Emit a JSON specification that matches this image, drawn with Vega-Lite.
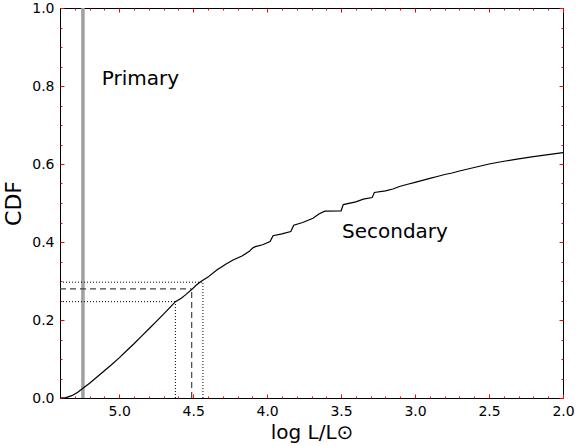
{
  "$schema": "https://vega.github.io/schema/vega-lite/v6.json",
  "width": 503,
  "height": 390,
  "autosize": "none",
  "padding": {"left": 60, "top": 8, "right": 16, "bottom": 48},
  "config": {
    "view": {"stroke": "black", "strokeWidth": 1},
    "font": "DejaVu Sans",
    "axis": {
      "grid": false,
      "domain": false,
      "ticks": true,
      "tickColor": "red",
      "tickWidth": 1,
      "tickSize": 4,
      "labelFont": "DejaVu Sans",
      "labelFontSize": 14,
      "labelColor": "black",
      "titleFont": "DejaVu Sans",
      "titleFontSize": 20,
      "titleFontWeight": "normal",
      "titleColor": "black"
    }
  },
  "datasets": {
    "curve": [
      {"logL": 5.40, "cdf": 0.000}, {"logL": 5.36, "cdf": 0.001}, {"logL": 5.32, "cdf": 0.006},
      {"logL": 5.28, "cdf": 0.015}, {"logL": 5.245, "cdf": 0.025}, {"logL": 5.20, "cdf": 0.038},
      {"logL": 5.15, "cdf": 0.054}, {"logL": 5.10, "cdf": 0.070}, {"logL": 5.05, "cdf": 0.086},
      {"logL": 5.00, "cdf": 0.103}, {"logL": 4.95, "cdf": 0.121}, {"logL": 4.90, "cdf": 0.139},
      {"logL": 4.85, "cdf": 0.158}, {"logL": 4.80, "cdf": 0.177}, {"logL": 4.75, "cdf": 0.196},
      {"logL": 4.70, "cdf": 0.215}, {"logL": 4.65, "cdf": 0.235}, {"logL": 4.62, "cdf": 0.247},
      {"logL": 4.58, "cdf": 0.256}, {"logL": 4.55, "cdf": 0.265}, {"logL": 4.51, "cdf": 0.278},
      {"logL": 4.48, "cdf": 0.289}, {"logL": 4.45, "cdf": 0.298}, {"logL": 4.40, "cdf": 0.310},
      {"logL": 4.34, "cdf": 0.328}, {"logL": 4.28, "cdf": 0.343}, {"logL": 4.23, "cdf": 0.354},
      {"logL": 4.17, "cdf": 0.364}, {"logL": 4.12, "cdf": 0.376}, {"logL": 4.10, "cdf": 0.384},
      {"logL": 4.08, "cdf": 0.388}, {"logL": 4.03, "cdf": 0.393}, {"logL": 3.98, "cdf": 0.401},
      {"logL": 3.96, "cdf": 0.416}, {"logL": 3.90, "cdf": 0.421}, {"logL": 3.84, "cdf": 0.427},
      {"logL": 3.82, "cdf": 0.443}, {"logL": 3.76, "cdf": 0.450}, {"logL": 3.69, "cdf": 0.461},
      {"logL": 3.65, "cdf": 0.472}, {"logL": 3.61, "cdf": 0.479}, {"logL": 3.50, "cdf": 0.480},
      {"logL": 3.485, "cdf": 0.496}, {"logL": 3.40, "cdf": 0.503}, {"logL": 3.35, "cdf": 0.510},
      {"logL": 3.29, "cdf": 0.514}, {"logL": 3.275, "cdf": 0.527}, {"logL": 3.20, "cdf": 0.531},
      {"logL": 3.15, "cdf": 0.536}, {"logL": 3.10, "cdf": 0.543}, {"logL": 3.05, "cdf": 0.548},
      {"logL": 3.00, "cdf": 0.553}, {"logL": 2.95, "cdf": 0.558}, {"logL": 2.90, "cdf": 0.563},
      {"logL": 2.85, "cdf": 0.568}, {"logL": 2.80, "cdf": 0.573}, {"logL": 2.75, "cdf": 0.577},
      {"logL": 2.70, "cdf": 0.582}, {"logL": 2.60, "cdf": 0.591}, {"logL": 2.50, "cdf": 0.600},
      {"logL": 2.40, "cdf": 0.607}, {"logL": 2.30, "cdf": 0.613}, {"logL": 2.20, "cdf": 0.619},
      {"logL": 2.10, "cdf": 0.624}, {"logL": 2.00, "cdf": 0.629}
    ],
    "primary": [{"logL": 5.245}],
    "dashed": [
      {"x": 5.4, "x2": 4.51, "y": 0.28, "y2": 0.28},
      {"x": 4.51, "x2": 4.51, "y": 0.0, "y2": 0.28}
    ],
    "dotted": [
      {"x": 5.4, "x2": 4.62, "y": 0.247, "y2": 0.247},
      {"x": 4.62, "x2": 4.62, "y": 0.0, "y2": 0.247},
      {"x": 5.4, "x2": 4.434, "y": 0.297, "y2": 0.297},
      {"x": 4.434, "x2": 4.434, "y": 0.0, "y2": 0.297}
    ],
    "labels": [
      {"logL": 5.117, "cdf": 0.818, "text": "Primary"},
      {"logL": 3.494, "cdf": 0.426, "text": "Secondary"}
    ]
  },
  "resolve": {"axis": {"x": "independent", "y": "independent"}},
  "layer": [
    {
      "data": {"name": "primary"},
      "mark": {"type": "rule", "color": "#a0a0a0", "strokeWidth": 3.5},
      "encoding": {
        "x": {
          "field": "logL", "type": "quantitative",
          "scale": {"domain": [2.0, 5.4], "reverse": true, "nice": false, "zero": false},
          "axis": {
            "orient": "top", "title": null, "labels": false,
            "values": [5.0, 4.5, 4.0, 3.5, 3.0, 2.5, 2.0],
            "offset": -4
          }
        }
      }
    },
    {
      "data": {"name": "dotted"},
      "mark": {"type": "rule", "color": "black", "strokeWidth": 1, "strokeDash": [1, 2]},
      "encoding": {
        "x": {
          "field": "x", "type": "quantitative",
          "axis": {
            "orient": "top", "title": null, "labels": false,
            "values": [5.3, 5.2, 5.1, 4.9, 4.8, 4.7, 4.6, 4.4, 4.3, 4.2, 4.1, 3.9, 3.8, 3.7, 3.6, 3.4, 3.3, 3.2, 3.1, 2.9, 2.8, 2.7, 2.6, 2.4, 2.3, 2.2, 2.1],
            "tickSize": 2, "offset": -2
          }
        },
        "x2": {"field": "x2"},
        "y": {
          "field": "y", "type": "quantitative",
          "axis": {
            "orient": "right", "title": null, "labels": false,
            "values": [0, 0.2, 0.4, 0.6, 0.8, 1.0],
            "offset": -4
          }
        },
        "y2": {"field": "y2"}
      }
    },
    {
      "data": {"name": "dashed"},
      "mark": {"type": "rule", "color": "#444444", "strokeWidth": 1.2, "strokeDash": [6, 4]},
      "encoding": {
        "x": {
          "field": "x", "type": "quantitative",
          "axis": {
            "orient": "bottom", "title": null, "labels": false,
            "values": [5.3, 5.2, 5.1, 4.9, 4.8, 4.7, 4.6, 4.4, 4.3, 4.2, 4.1, 3.9, 3.8, 3.7, 3.6, 3.4, 3.3, 3.2, 3.1, 2.9, 2.8, 2.7, 2.6, 2.4, 2.3, 2.2, 2.1],
            "tickSize": 2, "offset": -2
          }
        },
        "x2": {"field": "x2"},
        "y": {
          "field": "y", "type": "quantitative",
          "axis": {
            "orient": "right", "title": null, "labels": false,
            "values": [0.05, 0.1, 0.15, 0.25, 0.3, 0.35, 0.45, 0.5, 0.55, 0.65, 0.7, 0.75, 0.85, 0.9, 0.95],
            "tickSize": 2, "offset": -2
          }
        },
        "y2": {"field": "y2"}
      }
    },
    {
      "data": {"name": "curve"},
      "mark": {"type": "line", "color": "black", "strokeWidth": 1.2},
      "encoding": {
        "x": {
          "field": "logL", "type": "quantitative",
          "axis": {
            "orient": "bottom", "title": "log L/L⊙",
            "values": [5.0, 4.5, 4.0, 3.5, 3.0, 2.5, 2.0],
            "format": ".1f",
            "offset": -4,
            "labelPadding": 6,
            "titlePadding": 4,
            "labelFlush": false,
            "labelOverlap": false
          }
        },
        "y": {
          "field": "cdf", "type": "quantitative",
          "scale": {"domain": [0, 1], "nice": false},
          "axis": {
            "orient": "left", "title": "CDF",
            "values": [0, 0.2, 0.4, 0.6, 0.8, 1.0],
            "format": ".1f",
            "offset": -4,
            "labelPadding": 6,
            "titlePadding": 6,
            "labelFlush": false,
            "labelOverlap": false,
            "titleFontSize": 22
          }
        }
      }
    },
    {
      "data": {"name": "labels"},
      "mark": {"type": "text", "align": "left", "baseline": "middle", "font": "DejaVu Sans", "fontSize": 20, "color": "black"},
      "encoding": {
        "x": {"field": "logL", "type": "quantitative", "axis": null},
        "y": {
          "field": "cdf", "type": "quantitative",
          "axis": {
            "orient": "left", "title": null, "labels": false,
            "values": [0.05, 0.1, 0.15, 0.25, 0.3, 0.35, 0.45, 0.5, 0.55, 0.65, 0.7, 0.75, 0.85, 0.9, 0.95],
            "tickSize": 2, "offset": -2
          }
        },
        "text": {"field": "text"}
      }
    }
  ]
}
